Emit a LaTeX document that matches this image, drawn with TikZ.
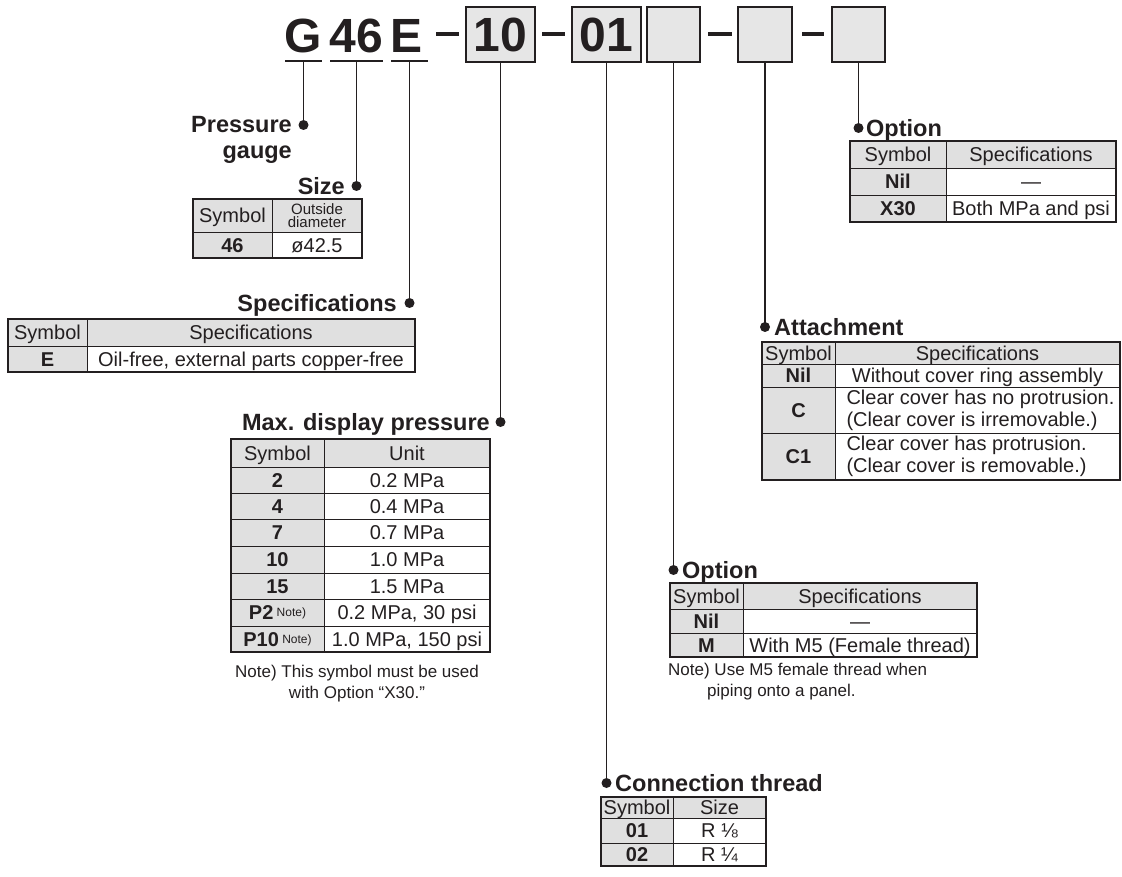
\documentclass[tikz,border=0pt]{standalone}
\usepackage{fontspec}
\setmainfont{Liberation Sans}
\definecolor{ink}{HTML}{231F20}
\definecolor{cellgray}{HTML}{E0E0E0}
\definecolor{boxgray}{HTML}{E6E6E6}
\newcommand{\tc}[7]{\node[tcell,#6,minimum width={(#4-#2)*1pt},minimum height={(#5-#3)*1pt}] (#1) at ({(#2+#4)/2},{(#3+#5)/2}) {#7};}
\newcommand{\tframe}[4]{\draw[ink,line width=1.2pt] (#1,#2) rectangle (#3,#4); \draw[ink,line width=2.2pt] (#1,#2) -- (#3,#2);}
\newcommand{\lline}[1]{\makebox[262pt][l]{#1}}
\begin{document}
\begin{tikzpicture}[x=1pt,y=-1pt,
  every node/.style={text=ink},
  tcell/.style={draw=ink,line width=0.8pt,inner sep=0pt,font=\fontsize{20}{22}\selectfont,text height=17.5pt,text depth=3.1pt},
  g/.style={fill=cellgray},
  b/.style={font=\fontsize{20}{22}\selectfont\bfseries},
  ml/.style={text height={},text depth={},align=center},
  ttl/.style={font=\fontsize{23.5}{26}\selectfont\bfseries,inner sep=0pt},
  dot/.style={circle,fill=ink,inner sep=0pt,minimum size=10pt},
  conn/.style={draw=ink,line width=1.8pt},
  big/.style={font=\fontsize{48}{48}\selectfont\bfseries,inner sep=0pt},
  hbox/.style={draw=ink,fill=boxgray,line width=1.6pt,inner sep=0pt,minimum height=55pt},
  note/.style={font=\fontsize{17}{21}\selectfont,inner sep=0pt},
  hdash/.style={draw=ink,line width=3.2pt}]
\useasboundingbox (0,0) rectangle (1122,877);

% ---------- header ----------
\node[big,anchor=base] (hG) at (303.5,53) {G};
\node[big,anchor=base] (h46) at (356.5,53) {46};
\node[big,anchor=base] (hE) at (407,53) {E};
\draw[conn] (285,61) -- (322,61);
\draw[conn] (330,61) -- (383,61);
\draw[conn] (391,61) -- (428,61);
\coordinate (uG) at (303.5,61);
\coordinate (u46) at (356.5,61);
\coordinate (uE) at (409.5,61);
\draw[hdash] (436,34) -- (459,34);
\node[hbox,big,minimum width=69pt,minimum height=55pt] (b10) at (500.5,34.5) {10};
\draw[hdash] (542,34) -- (565,34);
\node[hbox,big,minimum width=69pt,minimum height=55pt] (b01) at (606.5,34.5) {01};
\node[hbox,minimum width=53pt] (b3) at (673.5,34.5) {};
\draw[hdash] (708,34) -- (732,34);
\node[hbox,minimum width=54pt] (b4) at (765,34.5) {};
\draw[hdash] (802,34) -- (824,34);
\node[hbox,minimum width=53pt] (b5) at (858.5,34.5) {};

% ---------- dots ----------
\node[dot] (dG) at (303.5,125) {};
\node[dot] (d46) at (356.5,186) {};
\node[dot] (dE) at (409.5,303) {};
\node[dot] (d10) at (500.5,422) {};
\node[dot] (d01) at (606.5,783) {};
\node[dot] (d3) at (673.5,570) {};
\node[dot] (d4) at (765,327) {};
\node[dot] (d5) at (858.5,128) {};

% ---------- connectors ----------
\draw[conn] (uG) -- (dG.center);
\draw[conn] (u46) -- (d46.center);
\draw[conn] (uE) -- (dE.center);
\draw[conn] (b10.south) -- (d10.center);
\draw[conn] (b01.south) -- (d01.center);
\draw[conn] (b3.south) -- (d3.center);
\draw[conn] (b4.south) -- (d4.center);
\draw[conn] (b5.south) -- (d5.center);

% ---------- titles ----------
\node[ttl,anchor=base east,align=right] (tPG) at (292,159) {Pressure\\gauge};
\node[ttl,anchor=base east] (tSize) at (345,194.5) {Size};
\node[ttl,anchor=base east] (tSpec) at (397,311.5) {Specifications};
\node[ttl,anchor=base east] (tMax) at (490,430.5) {Max. display pressure};
\node[ttl,anchor=base west] (tOpt1) at (866,136.5) {Option};
\node[ttl,anchor=base west] (tAtt) at (774,335.5) {Attachment};
\node[ttl,anchor=base west] (tOpt2) at (682,578.5) {Option};
\node[ttl,anchor=base west] (tCon) at (615,791.5) {Connection thread};

% ---------- Size table ----------
\tc{s11}{193}{199}{272}{232}{g}{Symbol}
\tc{s12}{272}{199}{362}{232}{g,ml,font=\fontsize{15}{13}\selectfont}{Outside\\diameter}
\tc{s21}{193}{232}{272}{258}{g,b}{46}
\tc{s22}{272}{232}{362}{258}{}{ø42.5}
\tframe{193}{199}{362}{258}

% ---------- Specifications table ----------
\tc{sp11}{8}{319}{87}{346}{g}{Symbol}
\tc{sp12}{87}{319}{415}{346}{g}{Specifications}
\tc{sp21}{8}{346}{87}{372}{g,b}{E}
\tc{sp22}{87}{346}{415}{372}{}{Oil-free, external parts copper-free}
\tframe{8}{319}{415}{372}

% ---------- Max display pressure table ----------
\tc{m01}{231}{439}{324}{467}{g}{Symbol}
\tc{m02}{324}{439}{490}{467}{g}{Unit}
\tc{m11}{231}{467}{324}{493}{g,b}{2}
\tc{m12}{324}{467}{490}{493}{}{0.2 MPa}
\tc{m21}{231}{493}{324}{519}{g,b}{4}
\tc{m22}{324}{493}{490}{519}{}{0.4 MPa}
\tc{m31}{231}{519}{324}{546}{g,b}{7}
\tc{m32}{324}{519}{490}{546}{}{0.7 MPa}
\tc{m41}{231}{546}{324}{573}{g,b}{10}
\tc{m42}{324}{546}{490}{573}{}{1.0 MPa}
\tc{m51}{231}{573}{324}{599}{g,b}{15}
\tc{m52}{324}{573}{490}{599}{}{1.5 MPa}
\tc{m61}{231}{599}{324}{626}{g,b}{P2\,\raisebox{3pt}{\mdseries\fontsize{12}{12}\selectfont Note)}}
\tc{m62}{324}{599}{490}{626}{}{0.2 MPa, 30 psi}
\tc{m71}{231}{626}{324}{652}{g,b}{P10\,\raisebox{3pt}{\mdseries\fontsize{12}{12}\selectfont Note)}}
\tc{m72}{324}{626}{490}{652}{}{1.0 MPa, 150 psi}
\tframe{231}{439}{490}{652}
\node[note,align=center,anchor=base] (nMax) at (357,698) {Note) This symbol must be used\\with Option “X30.”};

% ---------- Option (top) ----------
\tc{o01}{850}{141}{946}{168}{g}{Symbol}
\tc{o02}{946}{141}{1116}{168}{g}{Specifications}
\tc{o11}{850}{168}{946}{195}{g,b}{Nil}
\tc{o12}{946}{168}{1116}{195}{}{—}
\tc{o21}{850}{195}{946}{222}{g,b}{X30}
\tc{o22}{946}{195}{1116}{222}{}{Both MPa and psi}
\tframe{850}{141}{1116}{222}

% ---------- Attachment ----------
\tc{a01}{762}{342}{835}{364}{g}{Symbol}
\tc{a02}{835}{342}{1120}{364}{g}{Specifications}
\tc{a11}{762}{364}{835}{387}{g,b}{Nil}
\tc{a12}{835}{364}{1120}{387}{}{Without cover ring assembly}
\tc{a21}{762}{387}{835}{433}{g,b}{C}
\tc{a22}{835}{387}{1120}{433}{ml,align=left}{\lline{Clear cover has no protrusion.}\\\lline{(Clear cover is irremovable.)}}
\tc{a31}{762}{433}{835}{480}{g,b}{C1}
\tc{a32}{835}{433}{1120}{480}{ml,align=left}{\lline{Clear cover has protrusion.}\\\lline{(Clear cover is removable.)}}
\tframe{762}{342}{1120}{480}

% ---------- Option (middle) ----------
\tc{p01}{670}{583}{743}{609}{g}{Symbol}
\tc{p02}{743}{583}{977}{609}{g}{Specifications}
\tc{p11}{670}{609}{743}{633}{g,b}{Nil}
\tc{p12}{743}{609}{977}{633}{}{—}
\tc{p21}{670}{633}{743}{657}{g,b}{M}
\tc{p22}{743}{633}{977}{657}{}{With M5 (Female thread)}
\tframe{670}{583}{977}{657}
\node[note,align=left,anchor=base west] (nOpt) at (668,696) {Note) Use M5 female thread when\\\hspace*{39pt}piping onto a panel.};

% ---------- Connection thread ----------
\tc{c01}{601}{797}{673}{818}{g}{Symbol}
\tc{c02}{673}{797}{766}{818}{g}{Size}
\tc{c11}{601}{818}{673}{843}{g,b}{01}
\tc{c12}{673}{818}{766}{843}{}{R ⅛}
\tc{c21}{601}{843}{673}{866}{g,b}{02}
\tc{c22}{673}{843}{766}{866}{}{R ¼}
\tframe{601}{797}{766}{866}
\end{tikzpicture}
\end{document}
